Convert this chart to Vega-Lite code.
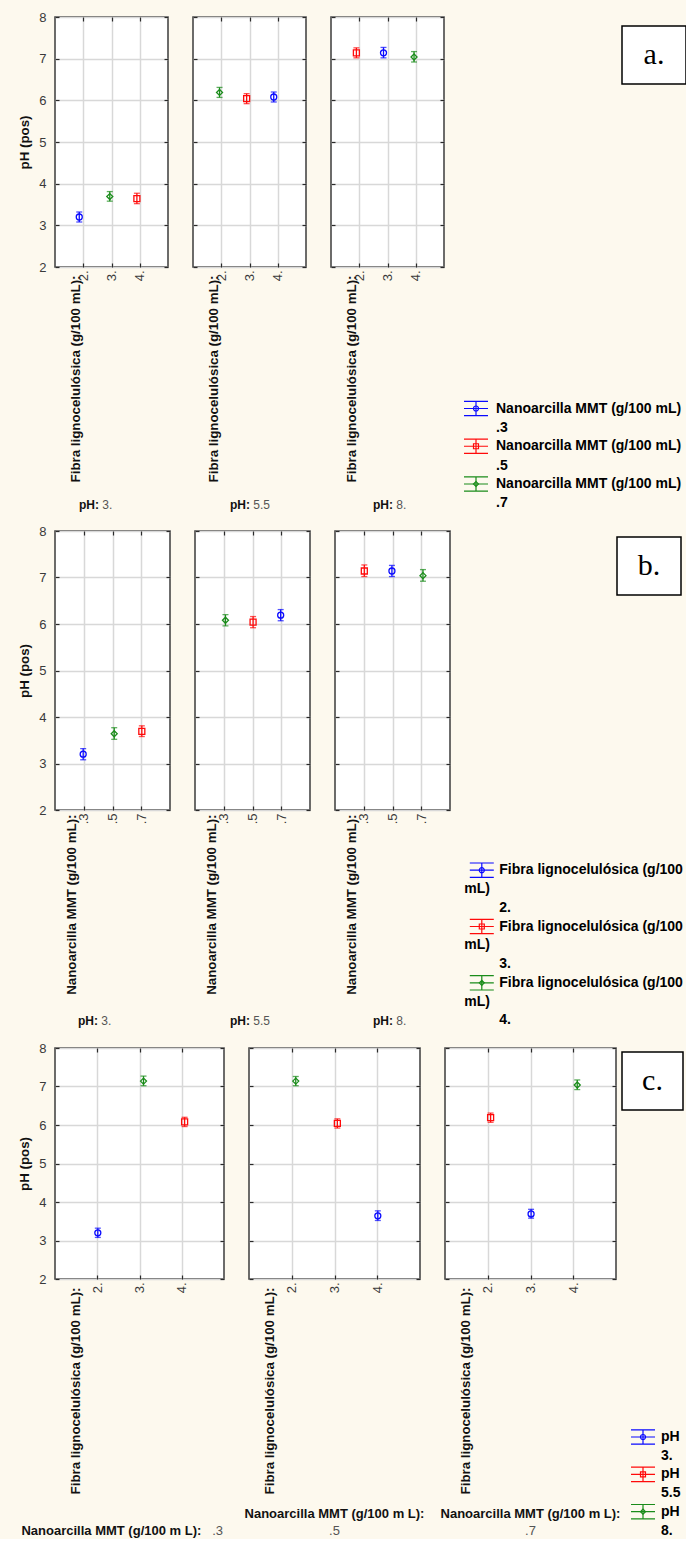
{
  "$schema": "https://vega.github.io/schema/vega-lite/v6.json",
  "background": "#fdf9ee",
  "padding": {"left": 17, "top": 10, "right": 0, "bottom": 0},
  "spacing": 12,
  "datasets": {
    "means": [
      {"ph": "3.", "fibra": "2.", "nano": ".3", "mean": 3.2, "lo": 3.08, "hi": 3.32},
      {"ph": "3.", "fibra": "3.", "nano": ".7", "mean": 3.69, "lo": 3.58, "hi": 3.81},
      {"ph": "3.", "fibra": "4.", "nano": ".5", "mean": 3.64, "lo": 3.52, "hi": 3.77},
      {"ph": "5.5", "fibra": "2.", "nano": ".7", "mean": 6.19, "lo": 6.07, "hi": 6.31},
      {"ph": "5.5", "fibra": "3.", "nano": ".5", "mean": 6.04, "lo": 5.92, "hi": 6.16},
      {"ph": "5.5", "fibra": "4.", "nano": ".3", "mean": 6.08, "lo": 5.96, "hi": 6.2},
      {"ph": "8.", "fibra": "2.", "nano": ".5", "mean": 7.14, "lo": 7.02, "hi": 7.26},
      {"ph": "8.", "fibra": "3.", "nano": ".3", "mean": 7.14, "lo": 7.02, "hi": 7.27},
      {"ph": "8.", "fibra": "4.", "nano": ".7", "mean": 7.04, "lo": 6.92, "hi": 7.17}
    ]
  },
  "config": {
    "font": "Liberation Sans",
    "view": {"fill": "white", "stroke": "#3d3d3d", "strokeWidth": 1.5},
    "axis": {
      "domain": false, "grid": true, "gridColor": "#d8d8d8", "gridWidth": 1.5,
      "tickColor": "#2a2a2a", "tickSize": -4, "tickWidth": 1.2,
      "labelFont": "Liberation Sans", "labelFontSize": 13, "labelColor": "#3a3a3a",
      "titleFont": "Liberation Sans", "titleFontSize": 13.3, "titleFontWeight": "bold", "titleColor": "#111111"
    },
    "title": {
      "font": "Liberation Sans", "fontSize": 12, "fontWeight": "bold", "color": "#111111",
      "subtitleFont": "Liberation Sans", "subtitleFontSize": 12, "subtitleColor": "#555555",
      "orient": "bottom", "frame": "group"
    },
    "point": {"opacity": 1},
    "text": {"lineBreak": "\n"}
  },
  "resolve": {"scale": {"color": "independent", "shape": "independent"}},
  "vconcat": [
    {
      "bounds": "flush",
      "spacing": 25,
      "hconcat": [
        {
          "width": 113, "height": 250,
          "data": {"name": "means"},
          "transform": [{"filter": "datum.ph === '3.'"}],
          "title": {"text": "pH:", "subtitle": "\u200b\u00a0\u00a0\u00a0\u00a0\u00a0\u00a0\u00a03.", "anchor": "start", "dx": 24, "offset": 18, "subtitlePadding": -12},
          "encoding": {
            "xOffset": {"field": "nano", "type": "nominal", "scale": {"type": "point", "domain": [".3", ".5", ".7"], "range": [-4, 4], "padding": 0}},
            "color": {"field": "nano", "type": "nominal", "scale": {"domain": [".3", ".5", ".7"], "range": ["#0a0aff", "#ff0a0a", "#1a8c1a"]}, "legend": null}
          },
          "layer": [
            {"mark": {"type": "rule", "strokeWidth": 1.3},
             "encoding": {
               "x": {"field": "fibra", "type": "nominal", "scale": {"type": "point", "domain": ["2.", "3.", "4."], "padding": 1},
                     "axis": {"title": "Fibra lignocelulósica (g/100 mL):", "labelAngle": 270, "labelPadding": 7, "titleAngle": 270, "titleAlign": "right", "titleBaseline": "middle", "titleX": 20, "titleY": 8}},
               "y": {"field": "lo", "type": "quantitative", "scale": {"domain": [2, 8], "nice": false, "zero": false},
                     "axis": {"title": "pH (pos)", "values": [2, 3, 4, 5, 6, 7, 8], "labelPadding": 13, "titlePadding": 7}},
               "y2": {"field": "hi"}
             }},
            {"mark": {"type": "tick", "orient": "horizontal", "size": 6, "thickness": 1.3},
             "encoding": {"x": {"field": "fibra", "type": "nominal", "axis": null}, "y": {"field": "lo", "type": "quantitative", "axis": null}}},
            {"mark": {"type": "tick", "orient": "horizontal", "size": 6, "thickness": 1.3},
             "encoding": {"x": {"field": "fibra", "type": "nominal", "axis": null}, "y": {"field": "hi", "type": "quantitative", "axis": null}}},
            {"mark": {"type": "point", "filled": false, "size": 36, "strokeWidth": 1.3},
             "encoding": {"x": {"field": "fibra", "type": "nominal", "axis": {"orient": "top", "labels": false, "title": null, "grid": false}},
                          "y": {"field": "mean", "type": "quantitative", "axis": {"orient": "right", "labels": false, "title": null, "grid": false, "values": [2, 3, 4, 5, 6, 7, 8]}},
                          "shape": {"field": "nano", "type": "nominal", "scale": {"domain": [".3", ".5", ".7"], "range": ["circle", "square", "diamond"]}, "legend": null}}}
          ],
          "resolve": {"axis": {"x": "independent", "y": "independent"}}
        },
        {
          "width": 113, "height": 250,
          "data": {"name": "means"},
          "transform": [{"filter": "datum.ph === '5.5'"}],
          "title": {"text": "pH:", "subtitle": "\u200b\u00a0\u00a0\u00a0\u00a0\u00a0\u00a0\u00a05.5", "anchor": "start", "dx": 37, "offset": 18, "subtitlePadding": -12},
          "encoding": {
            "xOffset": {"field": "nano", "type": "nominal", "scale": {"type": "point", "domain": [".3", ".5", ".7"], "range": [-4, 4], "padding": 0}},
            "color": {"field": "nano", "type": "nominal", "scale": {"domain": [".3", ".5", ".7"], "range": ["#0a0aff", "#ff0a0a", "#1a8c1a"]}, "legend": null}
          },
          "layer": [
            {"mark": {"type": "rule", "strokeWidth": 1.3},
             "encoding": {
               "x": {"field": "fibra", "type": "nominal", "scale": {"type": "point", "domain": ["2.", "3.", "4."], "padding": 1},
                     "axis": {"title": "Fibra lignocelulósica (g/100 mL):", "labelAngle": 270, "labelPadding": 7, "titleAngle": 270, "titleAlign": "right", "titleBaseline": "middle", "titleX": 20, "titleY": 8}},
               "y": {"field": "lo", "type": "quantitative", "scale": {"domain": [2, 8], "nice": false, "zero": false},
                     "axis": {"title": null, "labels": false, "values": [2, 3, 4, 5, 6, 7, 8]}},
               "y2": {"field": "hi"}
             }},
            {"mark": {"type": "tick", "orient": "horizontal", "size": 6, "thickness": 1.3},
             "encoding": {"x": {"field": "fibra", "type": "nominal", "axis": null}, "y": {"field": "lo", "type": "quantitative", "axis": null}}},
            {"mark": {"type": "tick", "orient": "horizontal", "size": 6, "thickness": 1.3},
             "encoding": {"x": {"field": "fibra", "type": "nominal", "axis": null}, "y": {"field": "hi", "type": "quantitative", "axis": null}}},
            {"mark": {"type": "point", "filled": false, "size": 36, "strokeWidth": 1.3},
             "encoding": {"x": {"field": "fibra", "type": "nominal", "axis": {"orient": "top", "labels": false, "title": null, "grid": false}},
                          "y": {"field": "mean", "type": "quantitative", "axis": {"orient": "right", "labels": false, "title": null, "grid": false, "values": [2, 3, 4, 5, 6, 7, 8]}},
                          "shape": {"field": "nano", "type": "nominal", "scale": {"domain": [".3", ".5", ".7"], "range": ["circle", "square", "diamond"]}, "legend": null}}}
          ],
          "resolve": {"axis": {"x": "independent", "y": "independent"}}
        },
        {
          "width": 113, "height": 250,
          "data": {"name": "means"},
          "transform": [{"filter": "datum.ph === '8.'"}],
          "title": {"text": "pH:", "subtitle": "\u200b\u00a0\u00a0\u00a0\u00a0\u00a0\u00a0\u00a08.", "anchor": "start", "dx": 42, "offset": 18, "subtitlePadding": -12},
          "encoding": {
            "xOffset": {"field": "nano", "type": "nominal", "scale": {"type": "point", "domain": [".3", ".5", ".7"], "range": [-4, 4], "padding": 0}},
            "color": {"field": "nano", "type": "nominal", "scale": {"domain": [".3", ".5", ".7"], "range": ["#0a0aff", "#ff0a0a", "#1a8c1a"]}, "legend": null}
          },
          "layer": [
            {"mark": {"type": "rule", "strokeWidth": 1.3},
             "encoding": {
               "x": {"field": "fibra", "type": "nominal", "scale": {"type": "point", "domain": ["2.", "3.", "4."], "padding": 1},
                     "axis": {"title": "Fibra lignocelulósica (g/100 mL):", "labelAngle": 270, "labelPadding": 7, "titleAngle": 270, "titleAlign": "right", "titleBaseline": "middle", "titleX": 20, "titleY": 8}},
               "y": {"field": "lo", "type": "quantitative", "scale": {"domain": [2, 8], "nice": false, "zero": false},
                     "axis": {"title": null, "labels": false, "values": [2, 3, 4, 5, 6, 7, 8]}},
               "y2": {"field": "hi"}
             }},
            {"mark": {"type": "tick", "orient": "horizontal", "size": 6, "thickness": 1.3},
             "encoding": {"x": {"field": "fibra", "type": "nominal", "axis": null}, "y": {"field": "lo", "type": "quantitative", "axis": null}}},
            {"mark": {"type": "tick", "orient": "horizontal", "size": 6, "thickness": 1.3},
             "encoding": {"x": {"field": "fibra", "type": "nominal", "axis": null}, "y": {"field": "hi", "type": "quantitative", "axis": null}}},
            {"mark": {"type": "point", "filled": false, "size": 36, "strokeWidth": 1.3},
             "encoding": {"x": {"field": "fibra", "type": "nominal", "axis": {"orient": "top", "labels": false, "title": null, "grid": false}},
                          "y": {"field": "mean", "type": "quantitative", "axis": {"orient": "right", "labels": false, "title": null, "grid": false, "values": [2, 3, 4, 5, 6, 7, 8]}},
                          "shape": {"field": "nano", "type": "nominal", "scale": {"domain": [".3", ".5", ".7"], "range": ["circle", "square", "diamond"]}, "legend": null}}}
          ],
          "resolve": {"axis": {"x": "independent", "y": "independent"}}
        },
        {
          "width": 128, "height": 250,
          "view": {"fill": null, "stroke": null},
          "data": {"values": [
            {"key": ".3", "label": "Nanoarcilla MMT (g/100 mL)\n.3"},
            {"key": ".5", "label": "Nanoarcilla MMT (g/100 mL)\n.5"},
            {"key": ".7", "label": "Nanoarcilla MMT (g/100 mL)\n.7"}
          ]},
          "encoding": {
            "y": {"field": "key", "type": "nominal", "scale": {"type": "point", "domain": [".3", ".5", ".7"], "range": [391.5, 467], "padding": 0}, "axis": null},
            "color": {"field": "key", "type": "nominal", "scale": {"domain": [".3", ".5", ".7"], "range": ["#0a0aff", "#ff0a0a", "#1a8c1a"]}, "legend": null}
          },
          "layer": [
            {"mark": {"type": "point", "shape": "M-1,-0.6H1M-1,0H1M-1,0.6H1M0,-0.6V0.6", "size": 576, "filled": false, "strokeWidth": 1.2},
             "encoding": {"x": {"datum": "sym", "type": "nominal", "scale": {"type": "point", "domain": ["sym", "txt"], "range": [7, 27], "padding": 0}, "axis": null}}},
            {"mark": {"type": "point", "filled": false, "size": 25, "strokeWidth": 1.2},
             "encoding": {"x": {"datum": "sym", "type": "nominal"},
                          "shape": {"field": "key", "type": "nominal", "scale": {"domain": [".3", ".5", ".7"], "range": ["circle", "square", "diamond"]}, "legend": null}}},
            {"mark": {"type": "text", "align": "left", "baseline": "middle", "fontSize": 14, "fontWeight": "bold", "lineHeight": 19.3},
             "encoding": {"x": {"datum": "txt", "type": "nominal"}, "text": {"field": "label"}, "color": {"value": "#000000"}}}
          ]
        },
        {
          "bounds": "flush",
          "spacing": 0,
          "vconcat": [
            {"width": 64, "height": 9, "view": {"fill": null, "stroke": null}, "data": {"values": []}, "mark": "rule", "encoding": {}},
            {
              "width": 64, "height": 58,
              "view": {"fill": "white", "stroke": "#000000", "strokeWidth": 1.5},
              "data": {"values": [{"tag": "a."}]},
              "mark": {"type": "text", "font": "Liberation Serif", "fontSize": 30, "align": "center", "baseline": "middle", "color": "#000000"},
              "encoding": {"text": {"field": "tag"}}
            }
          ]
        }
      ]
    },
    {
      "bounds": "flush",
      "spacing": 25,
      "hconcat": [
        {
          "width": 115, "height": 279,
          "data": {"name": "means"},
          "transform": [{"filter": "datum.ph === '3.'"}],
          "title": {"text": "pH:", "subtitle": "\u200b\u00a0\u00a0\u00a0\u00a0\u00a0\u00a0\u00a03.", "anchor": "start", "dx": 23, "offset": 22, "subtitlePadding": -12},
          "encoding": {
            "xOffset": {"field": "fibra", "type": "nominal", "scale": {"type": "point", "domain": ["2.", "3.", "4."], "range": [-4.5, 4.5], "padding": 0}},
            "color": {"field": "fibra", "type": "nominal", "scale": {"domain": ["2.", "3.", "4."], "range": ["#0a0aff", "#ff0a0a", "#1a8c1a"]}, "legend": null}
          },
          "layer": [
            {"mark": {"type": "rule", "strokeWidth": 1.3},
             "encoding": {
               "x": {"field": "nano", "type": "nominal", "scale": {"type": "point", "domain": [".3", ".5", ".7"], "padding": 1},
                     "axis": {"title": "Nanoarcilla MMT (g/100 mL):", "labelAngle": 270, "labelPadding": 7, "titleAngle": 270, "titleAlign": "right", "titleBaseline": "middle", "titleX": 16, "titleY": 4}},
               "y": {"field": "lo", "type": "quantitative", "scale": {"domain": [2, 8], "nice": false, "zero": false},
                     "axis": {"title": "pH (pos)", "values": [2, 3, 4, 5, 6, 7, 8], "labelPadding": 13, "titlePadding": 7}},
               "y2": {"field": "hi"}
             }},
            {"mark": {"type": "tick", "orient": "horizontal", "size": 6, "thickness": 1.3},
             "encoding": {"x": {"field": "nano", "type": "nominal", "axis": null}, "y": {"field": "lo", "type": "quantitative", "axis": null}}},
            {"mark": {"type": "tick", "orient": "horizontal", "size": 6, "thickness": 1.3},
             "encoding": {"x": {"field": "nano", "type": "nominal", "axis": null}, "y": {"field": "hi", "type": "quantitative", "axis": null}}},
            {"mark": {"type": "point", "filled": false, "size": 36, "strokeWidth": 1.3},
             "encoding": {"x": {"field": "nano", "type": "nominal", "axis": {"orient": "top", "labels": false, "title": null, "grid": false}},
                          "y": {"field": "mean", "type": "quantitative", "axis": {"orient": "right", "labels": false, "title": null, "grid": false, "values": [2, 3, 4, 5, 6, 7, 8]}},
                          "shape": {"field": "fibra", "type": "nominal", "scale": {"domain": ["2.", "3.", "4."], "range": ["circle", "square", "diamond"]}, "legend": null}}}
          ],
          "resolve": {"axis": {"x": "independent", "y": "independent"}}
        },
        {
          "width": 115, "height": 279,
          "data": {"name": "means"},
          "transform": [{"filter": "datum.ph === '5.5'"}],
          "title": {"text": "pH:", "subtitle": "\u200b\u00a0\u00a0\u00a0\u00a0\u00a0\u00a0\u00a05.5", "anchor": "start", "dx": 35, "offset": 22, "subtitlePadding": -12},
          "encoding": {
            "xOffset": {"field": "fibra", "type": "nominal", "scale": {"type": "point", "domain": ["2.", "3.", "4."], "range": [-4.5, 4.5], "padding": 0}},
            "color": {"field": "fibra", "type": "nominal", "scale": {"domain": ["2.", "3.", "4."], "range": ["#0a0aff", "#ff0a0a", "#1a8c1a"]}, "legend": null}
          },
          "layer": [
            {"mark": {"type": "rule", "strokeWidth": 1.3},
             "encoding": {
               "x": {"field": "nano", "type": "nominal", "scale": {"type": "point", "domain": [".3", ".5", ".7"], "padding": 1},
                     "axis": {"title": "Nanoarcilla MMT (g/100 mL):", "labelAngle": 270, "labelPadding": 7, "titleAngle": 270, "titleAlign": "right", "titleBaseline": "middle", "titleX": 16, "titleY": 4}},
               "y": {"field": "lo", "type": "quantitative", "scale": {"domain": [2, 8], "nice": false, "zero": false},
                     "axis": {"title": null, "labels": false, "values": [2, 3, 4, 5, 6, 7, 8]}},
               "y2": {"field": "hi"}
             }},
            {"mark": {"type": "tick", "orient": "horizontal", "size": 6, "thickness": 1.3},
             "encoding": {"x": {"field": "nano", "type": "nominal", "axis": null}, "y": {"field": "lo", "type": "quantitative", "axis": null}}},
            {"mark": {"type": "tick", "orient": "horizontal", "size": 6, "thickness": 1.3},
             "encoding": {"x": {"field": "nano", "type": "nominal", "axis": null}, "y": {"field": "hi", "type": "quantitative", "axis": null}}},
            {"mark": {"type": "point", "filled": false, "size": 36, "strokeWidth": 1.3},
             "encoding": {"x": {"field": "nano", "type": "nominal", "axis": {"orient": "top", "labels": false, "title": null, "grid": false}},
                          "y": {"field": "mean", "type": "quantitative", "axis": {"orient": "right", "labels": false, "title": null, "grid": false, "values": [2, 3, 4, 5, 6, 7, 8]}},
                          "shape": {"field": "fibra", "type": "nominal", "scale": {"domain": ["2.", "3.", "4."], "range": ["circle", "square", "diamond"]}, "legend": null}}}
          ],
          "resolve": {"axis": {"x": "independent", "y": "independent"}}
        },
        {
          "width": 115, "height": 279,
          "data": {"name": "means"},
          "transform": [{"filter": "datum.ph === '8.'"}],
          "title": {"text": "pH:", "subtitle": "\u200b\u00a0\u00a0\u00a0\u00a0\u00a0\u00a0\u00a08.", "anchor": "start", "dx": 38, "offset": 22, "subtitlePadding": -12},
          "encoding": {
            "xOffset": {"field": "fibra", "type": "nominal", "scale": {"type": "point", "domain": ["2.", "3.", "4."], "range": [-4.5, 4.5], "padding": 0}},
            "color": {"field": "fibra", "type": "nominal", "scale": {"domain": ["2.", "3.", "4."], "range": ["#0a0aff", "#ff0a0a", "#1a8c1a"]}, "legend": null}
          },
          "layer": [
            {"mark": {"type": "rule", "strokeWidth": 1.3},
             "encoding": {
               "x": {"field": "nano", "type": "nominal", "scale": {"type": "point", "domain": [".3", ".5", ".7"], "padding": 1},
                     "axis": {"title": "Nanoarcilla MMT (g/100 mL):", "labelAngle": 270, "labelPadding": 7, "titleAngle": 270, "titleAlign": "right", "titleBaseline": "middle", "titleX": 16, "titleY": 4}},
               "y": {"field": "lo", "type": "quantitative", "scale": {"domain": [2, 8], "nice": false, "zero": false},
                     "axis": {"title": null, "labels": false, "values": [2, 3, 4, 5, 6, 7, 8]}},
               "y2": {"field": "hi"}
             }},
            {"mark": {"type": "tick", "orient": "horizontal", "size": 6, "thickness": 1.3},
             "encoding": {"x": {"field": "nano", "type": "nominal", "axis": null}, "y": {"field": "lo", "type": "quantitative", "axis": null}}},
            {"mark": {"type": "tick", "orient": "horizontal", "size": 6, "thickness": 1.3},
             "encoding": {"x": {"field": "nano", "type": "nominal", "axis": null}, "y": {"field": "hi", "type": "quantitative", "axis": null}}},
            {"mark": {"type": "point", "filled": false, "size": 36, "strokeWidth": 1.3},
             "encoding": {"x": {"field": "nano", "type": "nominal", "axis": {"orient": "top", "labels": false, "title": null, "grid": false}},
                          "y": {"field": "mean", "type": "quantitative", "axis": {"orient": "right", "labels": false, "title": null, "grid": false, "values": [2, 3, 4, 5, 6, 7, 8]}},
                          "shape": {"field": "fibra", "type": "nominal", "scale": {"domain": ["2.", "3.", "4."], "range": ["circle", "square", "diamond"]}, "legend": null}}}
          ],
          "resolve": {"axis": {"x": "independent", "y": "independent"}}
        },
        {
          "width": 117, "height": 279,
          "view": {"fill": null, "stroke": null},
          "data": {"values": [
            {"key": "2.", "label": "Fibra lignocelulósica (g/100\n\u200b\n2.", "wrap": "\u200b\nmL)"},
            {"key": "3.", "label": "Fibra lignocelulósica (g/100\n\u200b\n3.", "wrap": "\u200b\nmL)"},
            {"key": "4.", "label": "Fibra lignocelulósica (g/100\n\u200b\n4.", "wrap": "\u200b\nmL)"}
          ]},
          "encoding": {
            "y": {"field": "key", "type": "nominal", "scale": {"type": "point", "domain": ["2.", "3.", "4."], "range": [339.2, 451.8], "padding": 0}, "axis": null},
            "color": {"field": "key", "type": "nominal", "scale": {"domain": ["2.", "3.", "4."], "range": ["#0a0aff", "#ff0a0a", "#1a8c1a"]}, "legend": null}
          },
          "layer": [
            {"mark": {"type": "point", "shape": "M-1,-0.6H1M-1,0H1M-1,0.6H1M0,-0.6V0.6", "size": 576, "filled": false, "strokeWidth": 1.2},
             "encoding": {"x": {"datum": "sym", "type": "nominal", "scale": {"type": "point", "domain": ["wrap", "sym", "txt"], "range": [-10.7, 24.3], "padding": 0}, "axis": null}}},
            {"mark": {"type": "point", "filled": false, "size": 25, "strokeWidth": 1.2},
             "encoding": {"x": {"datum": "sym", "type": "nominal"},
                          "shape": {"field": "key", "type": "nominal", "scale": {"domain": ["2.", "3.", "4."], "range": ["circle", "square", "diamond"]}, "legend": null}}},
            {"mark": {"type": "text", "align": "left", "baseline": "middle", "fontSize": 14, "fontWeight": "bold", "lineHeight": 18.8},
             "encoding": {"x": {"datum": "txt", "type": "nominal"}, "text": {"field": "label"}, "color": {"value": "#000000"}}},
            {"mark": {"type": "text", "align": "left", "baseline": "middle", "fontSize": 14, "fontWeight": "bold", "lineHeight": 18.8},
             "encoding": {"x": {"datum": "wrap", "type": "nominal"}, "text": {"field": "wrap"}, "color": {"value": "#000000"}}}
          ]
        },
        {
          "bounds": "flush",
          "spacing": 0,
          "vconcat": [
            {"width": 64, "height": 6, "view": {"fill": null, "stroke": null}, "data": {"values": []}, "mark": "rule", "encoding": {}},
            {
              "width": 64, "height": 58,
              "view": {"fill": "white", "stroke": "#000000", "strokeWidth": 1.5},
              "data": {"values": [{"tag": "b."}]},
              "mark": {"type": "text", "font": "Liberation Serif", "fontSize": 30, "align": "center", "baseline": "middle", "color": "#000000"},
              "encoding": {"text": {"field": "tag"}}
            }
          ]
        }
      ]
    },
    {
      "spacing": -4,
      "hconcat": [
        {
          "bounds": "flush",
          "spacing": 25,
          "hconcat": [
            {
              "width": 169, "height": 231,
              "data": {"name": "means"},
              "transform": [{"filter": "datum.nano === '.3'"}],
              "title": {"text": "Nanoarcilla MMT (g/100 m L):\u00a0\u00a0\u00a0\u00a0\u00a0\u00a0\u200b", "subtitle": ".3", "anchor": "end", "dx": -1, "offset": 31, "fontSize": 13, "subtitleFontSize": 13, "subtitlePadding": -13},
              "encoding": {
                "xOffset": {"field": "ph", "type": "nominal", "scale": {"type": "point", "domain": ["3.", "5.5", "8."], "range": [-6.5, 6.5], "padding": 0}},
                "color": {"field": "ph", "type": "nominal", "scale": {"domain": ["3.", "5.5", "8."], "range": ["#0a0aff", "#ff0a0a", "#1a8c1a"]}, "legend": null}
              },
              "layer": [
                {"mark": {"type": "rule", "strokeWidth": 1.3},
                 "encoding": {
                   "x": {"field": "fibra", "type": "nominal", "scale": {"type": "point", "domain": ["2.", "3.", "4."], "padding": 1},
                         "axis": {"title": "Fibra lignocelulósica (g/100 mL):", "labelAngle": 270, "labelPadding": 7, "titleAngle": 270, "titleAlign": "right", "titleBaseline": "middle", "titleX": 20, "titleY": 8}},
                   "y": {"field": "lo", "type": "quantitative", "scale": {"domain": [2, 8], "nice": false, "zero": false},
                         "axis": {"title": "pH (pos)", "values": [2, 3, 4, 5, 6, 7, 8], "labelPadding": 13, "titlePadding": 7}},
                   "y2": {"field": "hi"}
                 }},
                {"mark": {"type": "tick", "orient": "horizontal", "size": 6, "thickness": 1.3},
                 "encoding": {"x": {"field": "fibra", "type": "nominal", "axis": null}, "y": {"field": "lo", "type": "quantitative", "axis": null}}},
                {"mark": {"type": "tick", "orient": "horizontal", "size": 6, "thickness": 1.3},
                 "encoding": {"x": {"field": "fibra", "type": "nominal", "axis": null}, "y": {"field": "hi", "type": "quantitative", "axis": null}}},
                {"mark": {"type": "point", "filled": false, "size": 36, "strokeWidth": 1.3},
                 "encoding": {"x": {"field": "fibra", "type": "nominal", "axis": {"orient": "top", "labels": false, "title": null, "grid": false}},
                              "y": {"field": "mean", "type": "quantitative", "axis": {"orient": "right", "labels": false, "title": null, "grid": false, "values": [2, 3, 4, 5, 6, 7, 8]}},
                              "shape": {"field": "ph", "type": "nominal", "scale": {"domain": ["3.", "5.5", "8."], "range": ["circle", "square", "diamond"]}, "legend": null}}}
              ],
              "resolve": {"axis": {"x": "independent", "y": "independent"}}
            },
            {
              "width": 171, "height": 231,
              "data": {"name": "means"},
              "transform": [{"filter": "datum.nano === '.5'"}],
              "title": {"text": "Nanoarcilla MMT (g/100 m L):", "subtitle": ".5", "anchor": "middle", "offset": 14, "fontSize": 13, "subtitleFontSize": 13, "subtitlePadding": 4},
              "encoding": {
                "xOffset": {"field": "ph", "type": "nominal", "scale": {"type": "point", "domain": ["3.", "5.5", "8."], "range": [-6.5, 6.5], "padding": 0}},
                "color": {"field": "ph", "type": "nominal", "scale": {"domain": ["3.", "5.5", "8."], "range": ["#0a0aff", "#ff0a0a", "#1a8c1a"]}, "legend": null}
              },
              "layer": [
                {"mark": {"type": "rule", "strokeWidth": 1.3},
                 "encoding": {
                   "x": {"field": "fibra", "type": "nominal", "scale": {"type": "point", "domain": ["2.", "3.", "4."], "padding": 1},
                         "axis": {"title": "Fibra lignocelulósica (g/100 mL):", "labelAngle": 270, "labelPadding": 7, "titleAngle": 270, "titleAlign": "right", "titleBaseline": "middle", "titleX": 20, "titleY": 8}},
                   "y": {"field": "lo", "type": "quantitative", "scale": {"domain": [2, 8], "nice": false, "zero": false},
                         "axis": {"title": null, "labels": false, "values": [2, 3, 4, 5, 6, 7, 8]}},
                   "y2": {"field": "hi"}
                 }},
                {"mark": {"type": "tick", "orient": "horizontal", "size": 6, "thickness": 1.3},
                 "encoding": {"x": {"field": "fibra", "type": "nominal", "axis": null}, "y": {"field": "lo", "type": "quantitative", "axis": null}}},
                {"mark": {"type": "tick", "orient": "horizontal", "size": 6, "thickness": 1.3},
                 "encoding": {"x": {"field": "fibra", "type": "nominal", "axis": null}, "y": {"field": "hi", "type": "quantitative", "axis": null}}},
                {"mark": {"type": "point", "filled": false, "size": 36, "strokeWidth": 1.3},
                 "encoding": {"x": {"field": "fibra", "type": "nominal", "axis": {"orient": "top", "labels": false, "title": null, "grid": false}},
                              "y": {"field": "mean", "type": "quantitative", "axis": {"orient": "right", "labels": false, "title": null, "grid": false, "values": [2, 3, 4, 5, 6, 7, 8]}},
                              "shape": {"field": "ph", "type": "nominal", "scale": {"domain": ["3.", "5.5", "8."], "range": ["circle", "square", "diamond"]}, "legend": null}}}
              ],
              "resolve": {"axis": {"x": "independent", "y": "independent"}}
            },
            {
              "width": 171, "height": 231,
              "data": {"name": "means"},
              "transform": [{"filter": "datum.nano === '.7'"}],
              "title": {"text": "Nanoarcilla MMT (g/100 m L):", "subtitle": ".7", "anchor": "middle", "offset": 14, "fontSize": 13, "subtitleFontSize": 13, "subtitlePadding": 4},
              "encoding": {
                "xOffset": {"field": "ph", "type": "nominal", "scale": {"type": "point", "domain": ["3.", "5.5", "8."], "range": [-6.5, 6.5], "padding": 0}},
                "color": {"field": "ph", "type": "nominal", "scale": {"domain": ["3.", "5.5", "8."], "range": ["#0a0aff", "#ff0a0a", "#1a8c1a"]}, "legend": null}
              },
              "layer": [
                {"mark": {"type": "rule", "strokeWidth": 1.3},
                 "encoding": {
                   "x": {"field": "fibra", "type": "nominal", "scale": {"type": "point", "domain": ["2.", "3.", "4."], "padding": 1},
                         "axis": {"title": "Fibra lignocelulósica (g/100 mL):", "labelAngle": 270, "labelPadding": 7, "titleAngle": 270, "titleAlign": "right", "titleBaseline": "middle", "titleX": 20, "titleY": 8}},
                   "y": {"field": "lo", "type": "quantitative", "scale": {"domain": [2, 8], "nice": false, "zero": false},
                         "axis": {"title": null, "labels": false, "values": [2, 3, 4, 5, 6, 7, 8]}},
                   "y2": {"field": "hi"}
                 }},
                {"mark": {"type": "tick", "orient": "horizontal", "size": 6, "thickness": 1.3},
                 "encoding": {"x": {"field": "fibra", "type": "nominal", "axis": null}, "y": {"field": "lo", "type": "quantitative", "axis": null}}},
                {"mark": {"type": "tick", "orient": "horizontal", "size": 6, "thickness": 1.3},
                 "encoding": {"x": {"field": "fibra", "type": "nominal", "axis": null}, "y": {"field": "hi", "type": "quantitative", "axis": null}}},
                {"mark": {"type": "point", "filled": false, "size": 36, "strokeWidth": 1.3},
                 "encoding": {"x": {"field": "fibra", "type": "nominal", "axis": {"orient": "top", "labels": false, "title": null, "grid": false}},
                              "y": {"field": "mean", "type": "quantitative", "axis": {"orient": "right", "labels": false, "title": null, "grid": false, "values": [2, 3, 4, 5, 6, 7, 8]}},
                              "shape": {"field": "ph", "type": "nominal", "scale": {"domain": ["3.", "5.5", "8."], "range": ["circle", "square", "diamond"]}, "legend": null}}}
              ],
              "resolve": {"axis": {"x": "independent", "y": "independent"}}
            }
          ]
        },
        {
          "bounds": "flush",
          "spacing": 0,
          "vconcat": [
            {"width": 61, "height": 4, "view": {"fill": null, "stroke": null}, "data": {"values": []}, "mark": "rule", "encoding": {}},
            {
              "width": 61, "height": 58,
              "view": {"fill": "white", "stroke": "#000000", "strokeWidth": 1.5},
              "data": {"values": [
                {"key": "3.", "label": "pH\n3."},
                {"key": "5.5", "label": "pH\n5.5"},
                {"key": "8.", "label": "pH\n8."}
              ]},
              "layer": [
                {"data": {"values": [{"tag": "c."}]},
                 "mark": {"type": "text", "font": "Liberation Serif", "fontSize": 30, "align": "center", "baseline": "middle", "color": "#000000"},
                 "encoding": {"text": {"field": "tag"}}},
                {"mark": {"type": "point", "shape": "M-1,-0.6H1M-1,0H1M-1,0.6H1M0,-0.6V0.6", "size": 576, "filled": false, "strokeWidth": 1.2},
                 "encoding": {"x": {"datum": "sym", "type": "nominal", "scale": {"type": "point", "domain": ["sym", "txt"], "range": [21, 39], "padding": 0}, "axis": null},
                              "y": {"field": "key", "type": "nominal", "scale": {"type": "point", "domain": ["3.", "5.5", "8."], "range": [385, 459.7], "padding": 0}, "axis": null},
                              "color": {"field": "key", "type": "nominal", "scale": {"domain": ["3.", "5.5", "8."], "range": ["#0a0aff", "#ff0a0a", "#1a8c1a"]}, "legend": null}}},
                {"mark": {"type": "point", "filled": false, "size": 25, "strokeWidth": 1.2},
                 "encoding": {"x": {"datum": "sym", "type": "nominal"},
                              "y": {"field": "key", "type": "nominal"},
                              "color": {"field": "key", "type": "nominal", "legend": null},
                              "shape": {"field": "key", "type": "nominal", "scale": {"domain": ["3.", "5.5", "8."], "range": ["circle", "square", "diamond"]}, "legend": null}}},
                {"mark": {"type": "text", "align": "left", "baseline": "middle", "fontSize": 14, "fontWeight": "bold", "lineHeight": 19, "color": "#000000"},
                 "encoding": {"x": {"datum": "txt", "type": "nominal"}, "y": {"field": "key", "type": "nominal"}, "text": {"field": "label"}}}
              ]
            }
          ]
        }
      ]
    }
  ]
}
